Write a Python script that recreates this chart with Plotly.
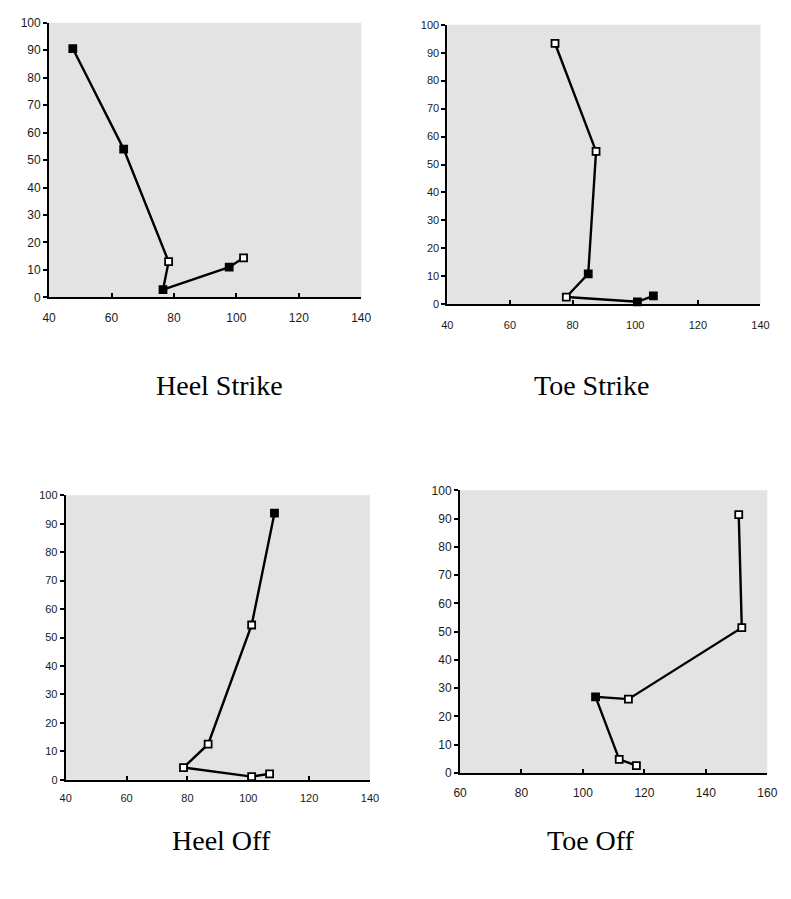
import plotly.graph_objects as go

W, H = 791, 899

# ---- data ----
heel_strike_x = [47.6, 63.9, 78.3, 76.5, 97.7, 102.3]
heel_strike_y = [90.6, 54.0, 13.0, 2.8, 11.0, 14.4]

toe_strike_x = [74.4, 87.5, 85.0, 78.0, 100.7, 105.8]
toe_strike_y = [93.3, 54.7, 10.9, 2.6, 0.9, 3.0]

heel_off_x = [108.6, 101.1, 86.8, 78.7, 101.1, 107.0]
heel_off_y = [93.7, 54.4, 12.5, 4.3, 1.1, 2.1]

toe_off_x = [150.7, 151.7, 114.8, 104.1, 111.8, 117.4]
toe_off_y = [91.4, 51.4, 26.1, 26.9, 4.8, 2.6]

captions = ["Heel Strike", "Toe Strike", "Heel Off", "Toe Off"]
x_ticks_a = [40, 60, 80, 100, 120, 140]
x_ticks_b = [60, 80, 100, 120, 140, 160]
y_ticks = [0, 10, 20, 30, 40, 50, 60, 70, 80, 90, 100]

# ---- styling / layout ----
B, Wt = "black", "white"
fills = [
    [B, B, Wt, B, B, Wt],
    [Wt, Wt, B, Wt, B, B],
    [B, Wt, Wt, Wt, Wt, Wt],
    [Wt, Wt, Wt, B, Wt, Wt],
]
# pixel boxes: (left, right, top, bottom)
boxes = [
    (43, 362, 16, 295),
    (450, 770, 18, 302),
    (60, 371, 496, 785),
    (463, 777, 491, 778),
]
xranges = [[40, 140], [40, 140], [40, 140], [60, 160]]
xticks = [x_ticks_a, x_ticks_a, x_ticks_a, x_ticks_b]
fsizes = [12, 11, 11, 12]
standoffs = [8, 10, 7, 8]
caption_pos = [(217, 384), (597, 384), (219, 847), (597, 847)]

series = [
    (heel_strike_x, heel_strike_y),
    (toe_strike_x, toe_strike_y),
    (heel_off_x, heel_off_y),
    (toe_off_x, toe_off_y),
]

fig = go.Figure()
for i, ((xs, ys), fc) in enumerate(zip(series, fills)):
    ax = "" if i == 0 else str(i + 1)
    fig.add_trace(go.Scatter(
        x=xs, y=ys, mode="lines+markers",
        xaxis="x" + ax, yaxis="y" + ax,
        line=dict(color="black", width=2.4),
        marker=dict(symbol="square", size=7, color=fc,
                    line=dict(color="black", width=1.8)),
        cliponaxis=False, showlegend=False, hoverinfo="x+y",
    ))
    l, r, t, b = boxes[i]
    tf = dict(family="Liberation Sans, Arial", size=fsizes[i], color="#1a1a1a")
    xa = dict(
        domain=[l / W, r / W], range=xranges[i], anchor="y" + ax,
        tickmode="array", tickvals=xticks[i], ticks="inside", ticklen=4,
        tickwidth=1.5, tickcolor="black",
        showline=True, linecolor="black", linewidth=2,
        showgrid=False, zeroline=False, fixedrange=True,
        tickfont=tf, ticklabelstandoff=standoffs[i],
    )
    ya = dict(
        domain=[1 - b / H, 1 - t / H], range=[0, 100], anchor="x" + ax,
        tickmode="array", tickvals=y_ticks, ticks="outside", ticklen=4,
        tickwidth=1.5, tickcolor="black",
        showline=True, linecolor="black", linewidth=2,
        showgrid=False, zeroline=False, fixedrange=True,
        tickfont=tf,
    )
    fig.layout["xaxis" + ax] = xa
    fig.layout["yaxis" + ax] = ya
    # grey plot background
    fig.add_shape(type="rect", xref="x" + ax + " domain", yref="y" + ax + " domain",
                  x0=0, x1=1, y0=0, y1=1, fillcolor="#e3e3e3",
                  line=dict(width=0), layer="below")
    cx, cy = caption_pos[i]
    fig.add_annotation(text=captions[i], x=cx / W, y=1 - cy / H, xref="paper", yref="paper",
                       showarrow=False, xanchor="center", yanchor="middle",
                       font=dict(family="Liberation Serif, Times New Roman", size=28, color="black"))

fig.update_layout(
    width=W, height=H, margin=dict(l=0, r=0, t=0, b=0),
    paper_bgcolor="white", plot_bgcolor="rgba(0,0,0,0)",
)
fig.write_html("out.html", config={"displayModeBar": False},
               post_script="document.body.style.margin='0';document.body.style.overflow='hidden';")
